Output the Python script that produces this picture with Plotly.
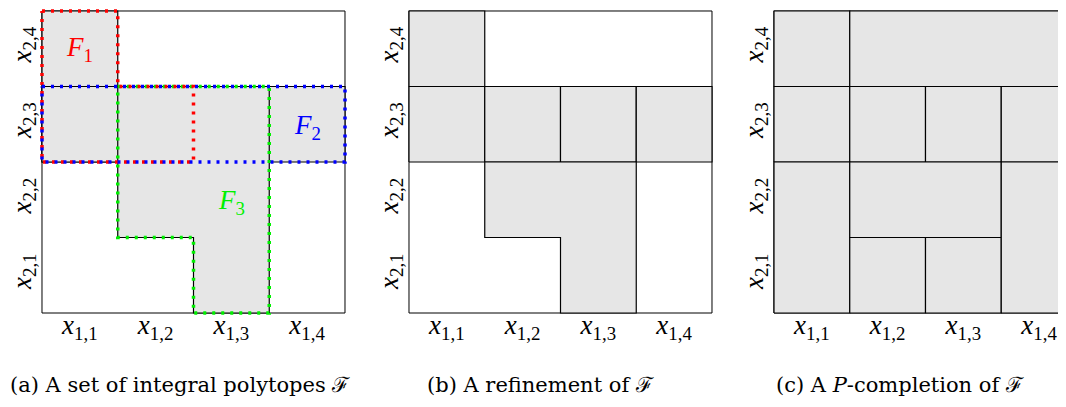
import plotly.graph_objects as go

W, H = 1066, 407
OFF = 8  # page body margin of the written html

# ---- data ----
col_labels = ["<i>x</i><sub>1,1</sub>", "<i>x</i><sub>1,2</sub>", "<i>x</i><sub>1,3</sub>", "<i>x</i><sub>1,4</sub>"]
row_labels = ["<i>x</i><sub>2,1</sub>", "<i>x</i><sub>2,2</sub>", "<i>x</i><sub>2,3</sub>", "<i>x</i><sub>2,4</sub>"]
tick_pos = [0.5, 1.5, 2.5, 3.5]

# panel (a): polytopes F1, F2, F3 in grid units
F1_x = [0, 1, 1, 2, 2, 0, 0]
F1_y = [4, 4, 3, 3, 2, 2, 4]
F2_x = [0, 4, 4, 0, 0]
F2_y = [3, 3, 2, 2, 3]
F3_x = [1, 3, 3, 2, 2, 1, 1]
F3_y = [3, 3, 0, 0, 1, 1, 3]
F_names = ["<i>F</i><sub>1</sub>", "<i>F</i><sub>2</sub>", "<i>F</i><sub>3</sub>"]
F_label_x = [0.5, 3.5, 2.5]
F_label_y = [3.5, 2.47, 1.47]
F_colors = ["#ff0000", "#0000ff", "#00f000"]

# panel (b): refinement cells
refinement = [
    ([0, 1, 1, 0, 0], [3, 3, 4, 4, 3]),
    ([0, 1, 1, 0, 0], [2, 2, 3, 3, 2]),
    ([1, 2, 2, 1, 1], [2, 2, 3, 3, 2]),
    ([2, 3, 3, 2, 2], [2, 2, 3, 3, 2]),
    ([3, 4, 4, 3, 3], [2, 2, 3, 3, 2]),
    ([1, 3, 3, 2, 2, 1, 1], [2, 2, 0, 0, 1, 1, 2]),
]

# panel (c): P-completion cells
completion = [
    ([0, 1, 1, 0, 0], [3, 3, 4, 4, 3]),
    ([1, 4, 4, 1, 1], [3, 3, 4, 4, 3]),
    ([0, 1, 1, 0, 0], [2, 2, 3, 3, 2]),
    ([1, 2, 2, 1, 1], [2, 2, 3, 3, 2]),
    ([2, 3, 3, 2, 2], [2, 2, 3, 3, 2]),
    ([3, 4, 4, 3, 3], [2, 2, 3, 3, 2]),
    ([0, 1, 1, 0, 0], [0, 0, 2, 2, 0]),
    ([1, 3, 3, 1, 1], [1, 1, 2, 2, 1]),
    ([1, 2, 2, 1, 1], [0, 0, 1, 1, 0]),
    ([2, 3, 3, 2, 2], [0, 0, 1, 1, 0]),
    ([3, 4, 4, 3, 3], [0, 0, 2, 2, 0]),
]

captions = ["(a) A set of integral polytopes ℱ",
            "(b) A refinement of ℱ",
            "(c) A <i>P</i>-completion of ℱ"]

# ---- layout geometry (reference pixel positions, shifted by OFF) ----
GRAY = "#e6e6e6"
FONT = "DejaVu Serif"
MFONT = "Liberation Serif"
cell = 75.75
pad = 0.035
panel_left = [42 - OFF, 409 - OFF, 774 - OFF]
top_px, bot_px = 11 - OFF, 313 - OFF

fig = go.Figure()

def frame(axn):
    fig.add_trace(go.Scatter(x=[0, 4, 4, 0, 0], y=[0, 0, 4, 4, 0], mode="lines",
                             line=dict(color="black", width=1), fill="toself",
                             fillcolor="white", hoverinfo="skip", showlegend=False,
                             xaxis="x" + axn, yaxis="y" + axn))

def poly(xs, ys, axn, fill=True, color="black", width=1.2, dash="solid"):
    fig.add_trace(go.Scatter(x=xs, y=ys, mode="lines",
                             line=dict(color=color, width=width, dash=dash),
                             fill="toself" if fill else None,
                             fillcolor=GRAY if fill else None,
                             hoverinfo="skip", showlegend=False,
                             xaxis="x" + axn, yaxis="y" + axn))

# panel (a)
frame("")
for xs, ys in [(F1_x, F1_y), (F2_x, F2_y), (F3_x, F3_y)]:
    poly(xs, ys, "")
for (xs, ys), c in zip([(F3_x, F3_y), (F1_x, F1_y), (F2_x, F2_y)],
                       [F_colors[2], F_colors[0], F_colors[1]]):
    poly(xs, ys, "", fill=False, color=c, width=3.5, dash="3px,6px")

# panel (b)
frame("2")
for xs, ys in refinement:
    poly(xs, ys, "2")

# panel (c)
frame("3")
for xs, ys in completion:
    poly(xs, ys, "3")

y_lo = 1 - (bot_px + pad * cell) / H
y_hi = min(1.0, 1 - (top_px - pad * cell) / H)
ydom = [y_lo, y_hi]
xlab_pos = 1 - (bot_px - 7) / H
for i, left in enumerate(panel_left):
    sfx = "" if i == 0 else str(i + 1)
    lo = (left - pad * cell) / W
    hi = (left + (4 + pad) * cell) / W
    rng_hi = 4 + pad
    if hi > 1:
        hi = 1.0
        rng_hi = (W - left) / cell
    fig.layout["xaxis" + sfx] = dict(domain=[lo, hi], range=[-pad, rng_hi],
                                     showgrid=False, zeroline=False, showline=False,
                                     tickmode="array", tickvals=tick_pos, ticktext=col_labels,
                                     ticks="", tickfont=dict(family=MFONT, size=27, color="black"),
                                     anchor="free", position=xlab_pos, fixedrange=True,
                                     automargin=False)
    fig.layout["yaxis" + sfx] = dict(domain=ydom, range=[-pad, 4 + pad],
                                     showgrid=False, zeroline=False, showline=False,
                                     tickmode="array", tickvals=tick_pos, ticktext=row_labels,
                                     tickangle=-90, ticks="",
                                     tickfont=dict(family=MFONT, size=27, color="black"),
                                     anchor="free", position=(left - 6) / W, fixedrange=True,
                                     automargin=False)

annotations = []
for name, lx, ly, c in zip(F_names, F_label_x, F_label_y, F_colors):
    annotations.append(dict(x=lx, y=ly, xref="x", yref="y", text=name, showarrow=False,
                            font=dict(family=MFONT, size=27, color=c)))
cap_x = [8, 425, 774]
for t, cx in zip(captions, cap_x):
    annotations.append(dict(x=(cx - OFF) / W, y=1 - (385 - OFF) / H, xref="paper", yref="paper",
                            xanchor="left", yanchor="middle", text=t, showarrow=False,
                            font=dict(family=FONT, size=21, color="black")))

fig.update_layout(width=W, height=H, margin=dict(l=0, r=0, t=0, b=0, autoexpand=False),
                  paper_bgcolor="white", plot_bgcolor="white",
                  annotations=annotations, showlegend=False)

fig.write_html("out.html")
